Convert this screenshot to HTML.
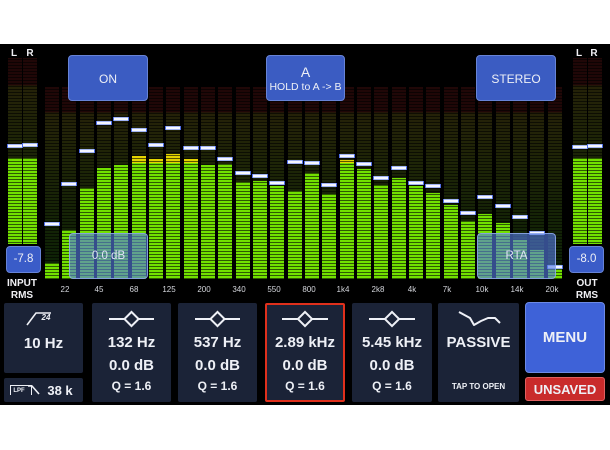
<!DOCTYPE html>
<html><head><meta charset="utf-8"><style>
*{margin:0;padding:0;box-sizing:border-box}
body{width:610px;height:450px;background:#fff;position:relative;overflow:hidden;font-family:"Liberation Sans",sans-serif}
.a{position:absolute}
.t{position:absolute;color:#eef0f6;text-align:center;white-space:nowrap;line-height:1}
.btn{position:absolute;background:#3b5cc2;border:1px solid #6783d6;border-radius:4px}
.ov{position:absolute;background:rgba(86,124,226,0.62);border:1px solid rgba(150,175,240,0.8);border-radius:4px}
.pn{position:absolute;background:#1b2337;border-radius:2px}
.b{font-weight:bold}
</style></head><body>
<svg class="a" style="left:0;top:0" width="610" height="450" xmlns="http://www.w3.org/2000/svg">
<defs>
<linearGradient id="dimB" gradientUnits="userSpaceOnUse" x1="0" y1="87" x2="0" y2="279">
<stop offset="0" stop-color="#200707"/><stop offset="0.13" stop-color="#200707"/>
<stop offset="0.135" stop-color="#252208"/><stop offset="0.4" stop-color="#1e2507"/><stop offset="1" stop-color="#0b2206"/>
</linearGradient>
<linearGradient id="dimM" gradientUnits="userSpaceOnUse" x1="0" y1="58" x2="0" y2="244">
<stop offset="0" stop-color="#200707"/><stop offset="0.145" stop-color="#200707"/>
<stop offset="0.15" stop-color="#252208"/><stop offset="0.45" stop-color="#1e2507"/><stop offset="1" stop-color="#0b2206"/>
</linearGradient>
<pattern id="st" patternUnits="userSpaceOnUse" x="0" y="0" width="4" height="3">
<rect x="0" y="2" width="4" height="1" fill="#000" fill-opacity="0.6"/>
</pattern>
</defs>
<rect x="0" y="44" width="610" height="361" fill="#000"/>
<g fill="url(#dimB)">
<rect x="45" y="87" width="14" height="192"/><rect x="62" y="87" width="14" height="192"/><rect x="80" y="87" width="14" height="192"/><rect x="97" y="87" width="14" height="192"/><rect x="114" y="87" width="14" height="192"/><rect x="132" y="87" width="14" height="192"/><rect x="149" y="87" width="14" height="192"/><rect x="166" y="87" width="14" height="192"/><rect x="184" y="87" width="14" height="192"/><rect x="201" y="87" width="14" height="192"/><rect x="218" y="87" width="14" height="192"/><rect x="236" y="87" width="14" height="192"/><rect x="253" y="87" width="14" height="192"/><rect x="270" y="87" width="14" height="192"/><rect x="288" y="87" width="14" height="192"/><rect x="305" y="87" width="14" height="192"/><rect x="322" y="87" width="14" height="192"/><rect x="340" y="87" width="14" height="192"/><rect x="357" y="87" width="14" height="192"/><rect x="374" y="87" width="14" height="192"/><rect x="392" y="87" width="14" height="192"/><rect x="409" y="87" width="14" height="192"/><rect x="426" y="87" width="14" height="192"/><rect x="444" y="87" width="14" height="192"/><rect x="461" y="87" width="14" height="192"/><rect x="478" y="87" width="14" height="192"/><rect x="496" y="87" width="14" height="192"/><rect x="513" y="87" width="14" height="192"/><rect x="530" y="87" width="14" height="192"/><rect x="548" y="87" width="14" height="192"/>
</g>
<g fill="url(#dimM)">
<rect x="8" y="58" width="14" height="186"/><rect x="23" y="58" width="14" height="186"/><rect x="573" y="58" width="14" height="186"/><rect x="588" y="58" width="14" height="186"/>
</g>
<g fill="#72e000">
<rect x="45" y="263" width="14" height="16"/>
<rect x="62" y="230" width="14" height="49"/>
<rect x="80" y="188" width="14" height="91"/>
<rect x="97" y="168" width="14" height="111"/>
<rect x="114" y="165" width="14" height="114"/>
<rect x="132" y="156" width="14" height="123"/>
<rect x="149" y="159" width="14" height="120"/>
<rect x="166" y="154" width="14" height="125"/>
<rect x="184" y="159" width="14" height="120"/>
<rect x="201" y="165" width="14" height="114"/>
<rect x="218" y="164" width="14" height="115"/>
<rect x="236" y="182" width="14" height="97"/>
<rect x="253" y="181" width="14" height="98"/>
<rect x="270" y="186" width="14" height="93"/>
<rect x="288" y="191" width="14" height="88"/>
<rect x="305" y="173" width="14" height="106"/>
<rect x="322" y="194" width="14" height="85"/>
<rect x="340" y="160" width="14" height="119"/>
<rect x="357" y="169" width="14" height="110"/>
<rect x="374" y="185" width="14" height="94"/>
<rect x="392" y="178" width="14" height="101"/>
<rect x="409" y="186" width="14" height="93"/>
<rect x="426" y="193" width="14" height="86"/>
<rect x="444" y="205" width="14" height="74"/>
<rect x="461" y="221" width="14" height="58"/>
<rect x="478" y="214" width="14" height="65"/>
<rect x="496" y="223" width="14" height="56"/>
<rect x="513" y="240" width="14" height="39"/>
<rect x="530" y="250" width="14" height="29"/>
<rect x="548" y="268" width="14" height="11"/>
<rect x="8" y="158" width="14" height="86"/><rect x="23" y="158" width="14" height="86"/>
<rect x="573" y="158" width="14" height="86"/><rect x="588" y="158" width="14" height="86"/>
</g>
<g fill="#e4d400">
<rect x="132" y="156" width="14" height="7"/>
<rect x="149" y="159" width="14" height="4"/>
<rect x="166" y="154" width="14" height="9"/>
<rect x="184" y="159" width="14" height="4"/>
<rect x="340" y="160" width="14" height="3"/>
</g>
<rect x="0" y="56" width="610" height="224" fill="url(#st)"/>
<g fill="#4f6fe6">
<rect x="44" y="222" width="16" height="4"/><rect x="61" y="182" width="16" height="4"/><rect x="79" y="149" width="16" height="4"/><rect x="96" y="121" width="16" height="4"/><rect x="113" y="117" width="16" height="4"/><rect x="131" y="128" width="16" height="4"/><rect x="148" y="143" width="16" height="4"/><rect x="165" y="126" width="16" height="4"/><rect x="183" y="146" width="16" height="4"/><rect x="200" y="146" width="16" height="4"/><rect x="217" y="157" width="16" height="4"/><rect x="235" y="171" width="16" height="4"/><rect x="252" y="174" width="16" height="4"/><rect x="269" y="181" width="16" height="4"/><rect x="287" y="160" width="16" height="4"/><rect x="304" y="161" width="16" height="4"/><rect x="321" y="183" width="16" height="4"/><rect x="339" y="154" width="16" height="4"/><rect x="356" y="162" width="16" height="4"/><rect x="373" y="176" width="16" height="4"/><rect x="391" y="166" width="16" height="4"/><rect x="408" y="181" width="16" height="4"/><rect x="425" y="184" width="16" height="4"/><rect x="443" y="199" width="16" height="4"/><rect x="460" y="211" width="16" height="4"/><rect x="477" y="195" width="16" height="4"/><rect x="495" y="204" width="16" height="4"/><rect x="512" y="215" width="16" height="4"/><rect x="529" y="231" width="16" height="4"/><rect x="547" y="265" width="16" height="4"/>
<rect x="7" y="144" width="16" height="4"/><rect x="22" y="143" width="16" height="4"/><rect x="572" y="145" width="16" height="4"/><rect x="587" y="144" width="16" height="4"/>
</g>
<g fill="#f6f8ff">
<rect x="45" y="222.5" width="14" height="3"/><rect x="62" y="182.5" width="14" height="3"/><rect x="80" y="149.5" width="14" height="3"/><rect x="97" y="121.5" width="14" height="3"/><rect x="114" y="117.5" width="14" height="3"/><rect x="132" y="128.5" width="14" height="3"/><rect x="149" y="143.5" width="14" height="3"/><rect x="166" y="126.5" width="14" height="3"/><rect x="184" y="146.5" width="14" height="3"/><rect x="201" y="146.5" width="14" height="3"/><rect x="218" y="157.5" width="14" height="3"/><rect x="236" y="171.5" width="14" height="3"/><rect x="253" y="174.5" width="14" height="3"/><rect x="270" y="181.5" width="14" height="3"/><rect x="288" y="160.5" width="14" height="3"/><rect x="305" y="161.5" width="14" height="3"/><rect x="322" y="183.5" width="14" height="3"/><rect x="340" y="154.5" width="14" height="3"/><rect x="357" y="162.5" width="14" height="3"/><rect x="374" y="176.5" width="14" height="3"/><rect x="392" y="166.5" width="14" height="3"/><rect x="409" y="181.5" width="14" height="3"/><rect x="426" y="184.5" width="14" height="3"/><rect x="444" y="199.5" width="14" height="3"/><rect x="461" y="211.5" width="14" height="3"/><rect x="478" y="195.5" width="14" height="3"/><rect x="496" y="204.5" width="14" height="3"/><rect x="513" y="215.5" width="14" height="3"/><rect x="530" y="231.5" width="14" height="3"/><rect x="548" y="265.5" width="14" height="3"/>
<rect x="8" y="144.5" width="14" height="3"/><rect x="23" y="143.5" width="14" height="3"/><rect x="573" y="145.5" width="14" height="3"/><rect x="588" y="144.5" width="14" height="3"/>
</g>
<g font-family="Liberation Sans, sans-serif" font-size="8" fill="#d4d6dc" text-anchor="middle">
<text x="65" y="292">22</text><text x="99" y="292">45</text><text x="134" y="292">68</text><text x="169" y="292">125</text><text x="204" y="292">200</text><text x="239" y="292">340</text><text x="274" y="292">550</text><text x="309" y="292">800</text><text x="343" y="292">1k4</text><text x="378" y="292">2k8</text><text x="412" y="292">4k</text><text x="447" y="292">7k</text><text x="482" y="292">10k</text><text x="517" y="292">14k</text><text x="552" y="292">20k</text>
</g>
<g font-family="Liberation Sans, sans-serif" font-size="10" font-weight="bold" fill="#f0f0f4" text-anchor="middle">
<text x="14" y="56">L</text><text x="30" y="56">R</text><text x="579" y="56">L</text><text x="594" y="56">R</text>
<text x="22" y="286">INPUT</text><text x="22" y="298">RMS</text>
<text x="587" y="286">OUT</text><text x="587" y="298">RMS</text>
</g>
</svg>

<div class="btn" style="left:68px;top:55px;width:80px;height:46px"></div>
<div class="t" style="left:68px;top:73px;width:80px;font-size:12px">ON</div>
<div class="btn" style="left:266px;top:55px;width:79px;height:46px"></div>
<div class="t" style="left:266px;top:65px;width:79px;font-size:14px">A</div>
<div class="t" style="left:266px;top:82px;width:79px;font-size:10.5px">HOLD to A -&gt; B</div>
<div class="btn" style="left:476px;top:55px;width:80px;height:46px"></div>
<div class="t" style="left:476px;top:73px;width:80px;font-size:12px">STEREO</div>

<div class="btn" style="left:6px;top:246px;width:35px;height:27px;background:#3a5cc8"></div>
<div class="t" style="left:6px;top:254px;width:35px;font-size:11.5px">-7.8</div>
<div class="btn" style="left:569px;top:246px;width:35px;height:27px;background:#3a5cc8"></div>
<div class="t" style="left:569px;top:254px;width:35px;font-size:11.5px">-8.0</div>

<div class="ov" style="left:69px;top:233px;width:79px;height:46px"></div>
<div class="t" style="left:69px;top:251px;width:79px;font-size:11.5px;color:#dfe4f4">0.0 dB</div>
<div class="ov" style="left:477px;top:233px;width:79px;height:46px"></div>
<div class="t" style="left:477px;top:251px;width:79px;font-size:11.5px;color:#dfe4f4">RTA</div>

<!-- panel 0 -->
<div class="pn" style="left:4px;top:303px;width:79px;height:70px"></div>
<svg class="a" style="left:4px;top:303px" width="79" height="70"><polyline points="23,22 32,10 47,10" fill="none" stroke="#eef0f6" stroke-width="1.6"/></svg>
<div class="t b" style="left:38px;top:314px;width:16px;font-size:8px;font-style:italic">24</div>
<div class="t b" style="left:4px;top:336px;width:79px;font-size:15px">10 Hz</div>
<div class="pn" style="left:4px;top:378px;width:79px;height:24px"></div>
<div class="a" style="left:10px;top:385px;width:22px;height:10px;border:1px solid #eef0f6;border-bottom:none"></div>
<div class="t b" style="left:12px;top:388px;width:14px;font-size:6px">LPF</div>
<svg class="a" style="left:27px;top:384px" width="14" height="12"><polyline points="1,2 5,2 12,10" fill="none" stroke="#eef0f6" stroke-width="1.6"/></svg>
<div class="t b" style="left:44px;top:384px;width:32px;font-size:13px">38 k</div>

<!-- panel 1 -->
<div class="pn" style="left:92px;top:303px;width:79px;height:99px"></div>
<svg class="a" style="left:92px;top:303px" width="79" height="30"><line x1="17" y1="16" x2="62" y2="16" stroke="#eef0f6" stroke-width="2"/><rect x="34.5" y="11" width="10" height="10" transform="rotate(45 39.5 16)" fill="#1b2337" stroke="#eef0f6" stroke-width="2"/></svg>
<div class="t b" style="left:92px;top:335px;width:79px;font-size:15px">132 Hz</div>
<div class="t b" style="left:92px;top:358px;width:79px;font-size:15px">0.0 dB</div>
<div class="t b" style="left:92px;top:380px;width:79px;font-size:12px">Q = 1.6</div>

<!-- panel 2 -->
<div class="pn" style="left:178px;top:303px;width:79px;height:99px"></div>
<svg class="a" style="left:178px;top:303px" width="79" height="30"><line x1="17" y1="16" x2="62" y2="16" stroke="#eef0f6" stroke-width="2"/><rect x="34.5" y="11" width="10" height="10" transform="rotate(45 39.5 16)" fill="#1b2337" stroke="#eef0f6" stroke-width="2"/></svg>
<div class="t b" style="left:178px;top:335px;width:79px;font-size:15px">537 Hz</div>
<div class="t b" style="left:178px;top:358px;width:79px;font-size:15px">0.0 dB</div>
<div class="t b" style="left:178px;top:380px;width:79px;font-size:12px">Q = 1.6</div>

<!-- panel 3 selected -->
<div class="pn" style="left:265px;top:303px;width:80px;height:99px;border:2px solid #e0301c"></div>
<svg class="a" style="left:265px;top:303px" width="80" height="30"><line x1="17" y1="16" x2="63" y2="16" stroke="#eef0f6" stroke-width="2"/><rect x="35" y="11" width="10" height="10" transform="rotate(45 40 16)" fill="#1b2337" stroke="#eef0f6" stroke-width="2"/></svg>
<div class="t b" style="left:265px;top:335px;width:80px;font-size:15px">2.89 kHz</div>
<div class="t b" style="left:265px;top:358px;width:80px;font-size:15px">0.0 dB</div>
<div class="t b" style="left:265px;top:380px;width:80px;font-size:12px">Q = 1.6</div>

<!-- panel 4 -->
<div class="pn" style="left:352px;top:303px;width:80px;height:99px"></div>
<svg class="a" style="left:352px;top:303px" width="80" height="30"><line x1="17" y1="16" x2="63" y2="16" stroke="#eef0f6" stroke-width="2"/><rect x="35" y="11" width="10" height="10" transform="rotate(45 40 16)" fill="#1b2337" stroke="#eef0f6" stroke-width="2"/></svg>
<div class="t b" style="left:352px;top:335px;width:80px;font-size:15px">5.45 kHz</div>
<div class="t b" style="left:352px;top:358px;width:80px;font-size:15px">0.0 dB</div>
<div class="t b" style="left:352px;top:380px;width:80px;font-size:12px">Q = 1.6</div>

<!-- panel 5 passive -->
<div class="pn" style="left:438px;top:303px;width:81px;height:99px"></div>
<svg class="a" style="left:438px;top:303px" width="81" height="30"><polyline points="21,9 32,15 36,22 43,18 50,15 57,15 62,20" fill="none" stroke="#eef0f6" stroke-width="2" stroke-linejoin="round"/></svg>
<div class="t b" style="left:438px;top:335px;width:81px;font-size:15px">PASSIVE</div>
<div class="t b" style="left:438px;top:383px;width:81px;font-size:8px">TAP TO OPEN</div>

<!-- menu -->
<div class="a" style="left:525px;top:302px;width:80px;height:71px;background:#3e62d8;border:1px solid #6c8ae6;border-radius:4px"></div>
<div class="t b" style="left:525px;top:330px;width:80px;font-size:15px">MENU</div>
<div class="a" style="left:525px;top:377px;width:80px;height:24px;background:#c92b2b;border:1px solid #e06060;border-radius:3px"></div>
<div class="t b" style="left:525px;top:383px;width:80px;font-size:13px">UNSAVED</div>
</body></html>
